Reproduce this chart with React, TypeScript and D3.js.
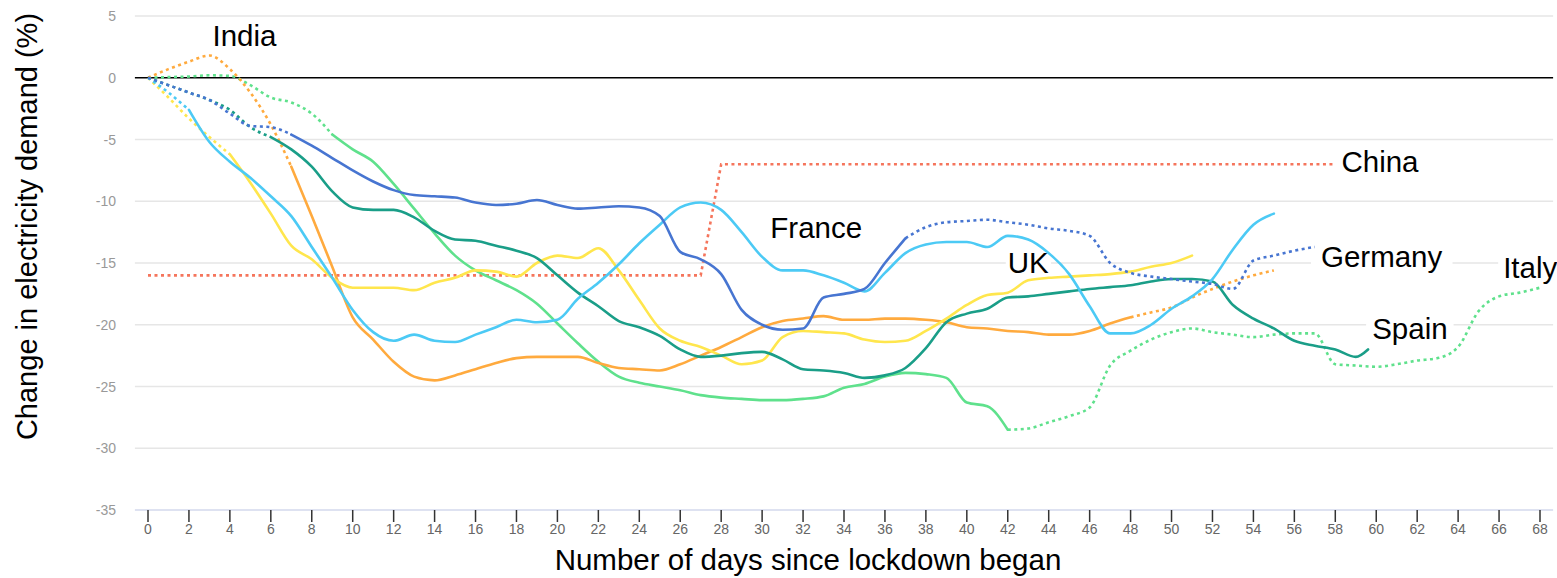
import { useEffect, useRef } from 'react';
import * as d3 from 'd3';

const WIDTH = 1557;
const HEIGHT = 578;

// axis ticks
const yTicks = [5, 0, -5, -10, -15, -20, -25, -30, -35];
const xTicks = [
  0, 2, 4, 6, 8, 10, 12, 14, 16, 18, 20, 22, 24, 26, 28, 30, 32, 34,
  36, 38, 40, 42, 44, 46, 48, 50, 52, 54, 56, 58, 60, 62, 64, 66, 68,
];

// India (orange) days 0..55
const indiaValues = [
  0, 0.7, 1.3, 1.8, 0.7, -1.2, -3.8, -7.2, -11.2, -15.3, -19.4, -21.2, -23, -24.2, -24.5, -24.1,
  -23.6, -23.1, -22.7, -22.6, -22.6, -22.6, -23.1, -23.5, -23.6, -23.7, -23.2, -22.5, -21.8, -21,
  -20.2, -19.7, -19.5, -19.3, -19.6, -19.6, -19.5, -19.5, -19.6, -19.8, -20.2, -20.3, -20.5, -20.6,
  -20.8, -20.8, -20.5, -19.9, -19.4, -19.0, -18.6, -17.8, -17.1, -16.5, -16.0, -15.6,
];

// China (red, dotted) step
const chinaDays = [0, 27, 28, 58];
const chinaValues = [-16, -16, -7, -7];

// Germany (dark blue) days 0..57
const germanyValues = [
  0, -0.6, -1.2, -1.8, -2.9, -3.9, -4.0, -4.6, -5.5, -6.5, -7.5, -8.4, -9.1, -9.5, -9.6, -9.7,
  -10.1, -10.3, -10.2, -9.9, -10.3, -10.6, -10.5, -10.4, -10.5, -11.2, -14.1, -14.7, -15.9, -18.8,
  -20.0, -20.4, -20.3, -17.8, -17.5, -17.1, -15.0, -13.0, -12.1, -11.7, -11.6, -11.5, -11.7, -11.9,
  -12.2, -12.4, -12.8, -15.0, -15.8, -16.1, -16.3, -16.5, -16.7, -17.1, -14.8, -14.4, -14.0, -13.7,
];

// France (light blue) days 0..55
const franceValues = [
  0, -1.2, -2.6, -5.2, -6.8, -8.1, -9.6, -11.2, -13.7, -16.2, -18.8, -20.6, -21.3, -20.8, -21.3,
  -21.4, -20.8, -20.2, -19.6, -19.8, -19.6, -17.9, -16.6, -15.1, -13.4, -11.9, -10.5, -10.1, -10.7,
  -12.5, -14.5, -15.6, -15.6, -16.0, -16.6, -17.3, -15.8, -14.2, -13.5, -13.3, -13.3, -13.7, -12.8,
  -13.1, -14.2, -15.9, -18.5, -20.7, -20.7, -20.0, -18.7, -17.7, -16.3, -13.9, -11.9, -11.0,
];

// UK (yellow) days 0..51
const ukValues = [
  0, -1.6, -3.3, -4.8, -6.2, -8.5, -11.0, -13.6, -14.7, -16.2, -17.0, -17.0, -17.0, -17.2, -16.6,
  -16.2, -15.6, -15.7, -16.1, -15.0, -14.4, -14.6, -13.8, -15.6, -18.0, -20.3, -21.3, -21.8, -22.5,
  -23.2, -22.9, -21.0, -20.5, -20.6, -20.7, -21.2, -21.4, -21.3, -20.5, -19.5, -18.4, -17.6, -17.4,
  -16.4, -16.2, -16.1, -16.0, -15.9, -15.7, -15.3, -15.0, -14.4,
];

// Spain (teal)
const spainDays = [
  0, 1, 2, 3, 4, 5, 6, 7, 8, 9, 10, 11, 12, 13, 14, 15, 16, 17, 18, 19, 20, 21, 22, 23, 24, 25, 26,
  27, 28, 29, 30, 31, 32, 33, 34, 35, 36, 37, 38, 39, 40, 41, 42, 43, 44, 45, 46, 47, 48, 49, 50, 51,
  52, 53, 54, 55, 56, 57, 58, 59, 59.6,
];
const spainValues = [
  0, -0.6, -1.2, -1.8, -2.6, -4.0, -4.8, -5.8, -7.2, -9.2, -10.5, -10.7, -10.7, -11.3, -12.4, -13.1,
  -13.2, -13.6, -14.0, -14.6, -16.0, -17.4, -18.5, -19.7, -20.2, -20.9, -22.0, -22.6, -22.5, -22.3,
  -22.2, -22.8, -23.6, -23.7, -23.9, -24.3, -24.1, -23.5, -21.9, -19.8, -19.1, -18.7, -17.8, -17.7,
  -17.5, -17.3, -17.1, -16.95, -16.8, -16.5, -16.3, -16.3, -16.5, -18.4, -19.5, -20.3, -21.3, -21.7,
  -22.0, -22.6, -22.0,
];

// Italy (green) days 0..68
const italyValues = [
  0, 0.05, 0.1, 0.2, 0.15, -0.6, -1.6, -2.0, -2.9, -4.6, -5.8, -6.8, -8.6, -10.6, -12.6, -14.4, -15.6,
  -16.4, -17.2, -18.3, -19.9, -21.5, -23.0, -24.2, -24.7, -25.0, -25.3, -25.7, -25.9, -26.0, -26.1,
  -26.1, -26.0, -25.8, -25.1, -24.8, -24.2, -23.9, -24.0, -24.3, -26.3, -26.6, -28.5, -28.4, -27.9,
  -27.4, -26.7, -23.3, -22.1, -21.2, -20.6, -20.3, -20.6, -20.8, -21.0, -20.8, -20.7, -20.7, -23.2,
  -23.3, -23.4, -23.2, -22.9, -22.7, -21.8, -18.9, -17.7, -17.4, -17.0,
];

// label text, anchor day and baseline value
const labelNames = ['India', 'China', 'France', 'UK', 'Germany', 'Spain', 'Italy'];
const labelDays = [3.15, 58.3, 30.4, 42.0, 57.3, 59.8, 66.2];
const labelValues = [2.6, -7.6, -12.95, -15.85, -15.35, -21.15, -16.25];
const labelPads = [4, 4, 4, 2, 10, 6, 5];

interface Series {
  name: string;
  color: string;
  days: number[];
  values: number[];
  solidFrom: number;
  solidTo: number;
  curve: d3.CurveFactory;
}

const dayIndex = (values: number[]) => values.map((_, i) => i);

const series: Series[] = [
  { name: 'China', color: '#f5755c', days: chinaDays, values: chinaValues, solidFrom: -1, solidTo: -1, curve: d3.curveLinear },
  { name: 'Italy', color: '#5fe18c', days: dayIndex(italyValues), values: italyValues, solidFrom: 9, solidTo: 42, curve: d3.curveMonotoneX },
  { name: 'India', color: '#ffaa3e', days: dayIndex(indiaValues), values: indiaValues, solidFrom: 7, solidTo: 48, curve: d3.curveMonotoneX },
  { name: 'UK', color: '#ffe64d', days: dayIndex(ukValues), values: ukValues, solidFrom: 4, solidTo: 51, curve: d3.curveMonotoneX },
  { name: 'Spain', color: '#1a9e88', days: spainDays, values: spainValues, solidFrom: 6, solidTo: spainValues.length - 1, curve: d3.curveMonotoneX },
  { name: 'France', color: '#4ccaf5', days: dayIndex(franceValues), values: franceValues, solidFrom: 2, solidTo: franceValues.length - 1, curve: d3.curveMonotoneX },
  { name: 'Germany', color: '#4775d1', days: dayIndex(germanyValues), values: germanyValues, solidFrom: 7, solidTo: 37, curve: d3.curveMonotoneX },
];

const FONT = "'Liberation Sans', Arial, sans-serif";

export default function App() {
  const svgRef = useRef<SVGSVGElement>(null);

  useEffect(() => {
    if (!svgRef.current) return;
    const svg = d3.select(svgRef.current);
    svg.selectAll('*').remove();

    const x = d3.scaleLinear().domain([0, 68]).range([148, 1540]);
    const y = d3.scaleLinear().domain([-35, 5]).range([510, 16]);
    const plotLeft = x(-0.64);
    const plotRight = x(68.64);

    // Gridlines
    const grid = svg.append('g');
    grid
      .selectAll('line')
      .data(yTicks.filter((t) => t !== 0 && t !== -35))
      .join('line')
      .attr('x1', plotLeft)
      .attr('x2', plotRight)
      .attr('y1', (d) => y(d))
      .attr('y2', (d) => y(d))
      .attr('stroke', '#e6e6e6')
      .attr('stroke-width', 1.5);

    // bottom axis line
    svg
      .append('line')
      .attr('x1', plotLeft)
      .attr('x2', plotRight)
      .attr('y1', y(-35))
      .attr('y2', y(-35))
      .attr('stroke', '#d3d9ec')
      .attr('stroke-width', 1.5);

    // zero line
    svg
      .append('line')
      .attr('x1', plotLeft)
      .attr('x2', plotRight)
      .attr('y1', y(0))
      .attr('y2', y(0))
      .attr('stroke', '#000')
      .attr('stroke-width', 1.5);

    // Y tick labels
    svg
      .append('g')
      .selectAll('text')
      .data(yTicks)
      .join('text')
      .attr('x', 116)
      .attr('y', (d) => y(d) + 5)
      .attr('text-anchor', 'end')
      .attr('fill', '#999')
      .attr('font-family', FONT)
      .attr('font-size', 14)
      .text((d) => String(d));

    // X ticks
    const xt = svg.append('g');
    xt.selectAll('line')
      .data(xTicks)
      .join('line')
      .attr('x1', (d) => x(d))
      .attr('x2', (d) => x(d))
      .attr('y1', y(-35))
      .attr('y2', y(-35) + 12)
      .attr('stroke', '#333')
      .attr('stroke-width', 1.5);
    xt.selectAll('text')
      .data(xTicks)
      .join('text')
      .attr('x', (d) => x(d))
      .attr('y', 534)
      .attr('text-anchor', 'middle')
      .attr('fill', '#666')
      .attr('font-family', FONT)
      .attr('font-size', 14)
      .text((d) => String(d));

    // Axis titles
    svg
      .append('text')
      .attr('transform', `translate(37,${(15 + 438) / 2}) rotate(-90)`)
      .attr('text-anchor', 'middle')
      .attr('fill', '#000')
      .attr('font-family', FONT)
      .attr('font-size', 29)
      .text('Change in electricity demand (%)');

    svg
      .append('text')
      .attr('x', 808)
      .attr('y', 570)
      .attr('text-anchor', 'middle')
      .attr('fill', '#000')
      .attr('font-family', FONT)
      .attr('font-size', 29.5)
      .text('Number of days since lockdown began');

    const labelBg = svg.append('g');
    const linesG = svg.append('g');
    const labelsG = svg.append('g');

    // Lines, split into dotted and solid parts
    series.forEach((s) => {
      const pts: [number, number][] = s.days.map((d, i) => [d, s.values[i]]);
      const line = d3
        .line<[number, number]>()
        .x((d) => x(d[0]))
        .y((d) => y(d[1]))
        .curve(s.curve);
      const parts: { pts: [number, number][]; dotted: boolean }[] = [];
      if (s.solidFrom < 0) {
        parts.push({ pts, dotted: true });
      } else {
        if (s.solidFrom > 0) parts.push({ pts: pts.slice(0, s.solidFrom + 1), dotted: true });
        parts.push({ pts: pts.slice(s.solidFrom, s.solidTo + 1), dotted: false });
        if (s.solidTo < pts.length - 1) parts.push({ pts: pts.slice(s.solidTo), dotted: true });
      }
      parts.forEach((p) => {
        linesG
          .append('path')
          .attr('d', line(p.pts) || '')
          .attr('fill', 'none')
          .attr('stroke', s.color)
          .attr('stroke-width', 2.6)
          .attr('stroke-linecap', p.dotted ? 'butt' : 'round')
          .attr('stroke-dasharray', p.dotted ? '3 3.5' : null);
      });
    });

    // Country labels with white backing
    labelNames.forEach((name, i) => {
      const t = labelsG
        .append('text')
        .attr('x', x(labelDays[i]))
        .attr('y', y(labelValues[i]))
        .attr('fill', '#000')
        .attr('font-family', FONT)
        .attr('font-size', 29.5)
        .text(name);
      const bb = (t.node() as SVGTextElement).getBBox();
      labelBg
        .append('rect')
        .attr('x', bb.x - labelPads[i])
        .attr('y', bb.y + 2)
        .attr('width', bb.width + labelPads[i] * 2)
        .attr('height', bb.height - 4)
        .attr('fill', '#fff');
    });
  }, []);

  return (
    <>
      <style>{`body{margin:0;background:#fff}`}</style>
      <svg ref={svgRef} width={WIDTH} height={HEIGHT} style={{ display: 'block' }} />
    </>
  );
}
